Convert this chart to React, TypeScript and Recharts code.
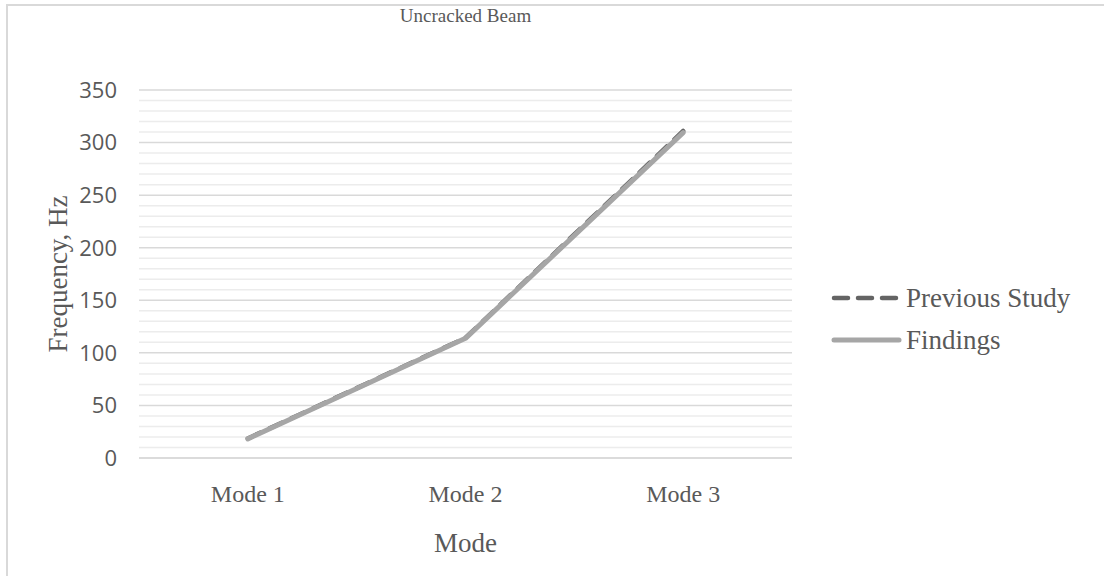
import React from "react"
import {
  LineChart,
  Line,
  XAxis,
  YAxis,
  CartesianGrid,
  ReferenceLine
} from "recharts"

// chart values
const modes = ["Mode 1", "Mode 2", "Mode 3"]
const previousStudy = [18.6, 114.3, 311]
const findings = [18.2, 113.8, 309.5]
const yTicks = [0, 50, 100, 150, 200, 250, 300, 350]
const minorStep = 10

const serif = '"Liberation Serif", "Times New Roman", serif'
const sans = '"Open Sans", "Noto Sans", sans-serif'
const textColor = "#595959"

const series = [
  { key: "previous", name: "Previous Study", color: "#646464", dash: "14 10", width: 4.5 },
  { key: "findings", name: "Findings", color: "#a6a6a6", dash: undefined, width: 5 }
]

const data = modes.map((mode, i) => ({
  mode,
  previous: previousStudy[i],
  findings: findings[i]
}))

// minor gridlines between the major ticks
const minorTicks: number[] = []
for (let v = minorStep; v < yTicks[yTicks.length - 1]; v += minorStep) {
  if (v % 50 !== 0) minorTicks.push(v)
}

function LegendBox() {
  return (
    <div style={{ fontFamily: serif, fontSize: 27, color: textColor }}>
      {series.map(s => (
        <div key={s.key} style={{ display: "flex", alignItems: "center", height: 42 }}>
          <svg width={79} height={12}>
            <line
              x1={7}
              x2={72}
              y1={6}
              y2={6}
              stroke={s.color}
              strokeWidth={s.width}
              strokeDasharray={s.dash}
              strokeLinecap="round"
            />
          </svg>
          <span>{s.name}</span>
        </div>
      ))}
    </div>
  )
}

export default function App() {
  return (
    <div style={{ position: "absolute", left: 0, top: 0, width: 1104, height: 576, overflow: "hidden", background: "#fff" }}>
      <div
        style={{
          position: "absolute",
          left: 6,
          top: 4,
          width: 1120,
          height: 600,
          border: "2px solid #d9d9d9"
        }}
      />
      <div
        style={{
          position: "absolute",
          top: 5,
          left: 139,
          width: 653,
          textAlign: "center",
          fontFamily: serif,
          fontSize: 19,
          color: textColor
        }}
      >
        Uncracked Beam
      </div>
      <div style={{ position: "absolute", left: 0, top: 0 }}>
        <LineChart
          width={1104}
          height={576}
          data={data}
          margin={{ top: 90, right: 312, bottom: 0, left: 0 }}
        >
          <CartesianGrid vertical={false} stroke="#d9d9d9" strokeWidth={1.5} />
          {minorTicks.map(v => (
            <ReferenceLine key={v} y={v} stroke="#ececec" strokeWidth={1.5} />
          ))}
          <XAxis
            dataKey="mode"
            scale="band"
            tickLine={false}
            axisLine={{ stroke: "#d9d9d9", strokeWidth: 1.5 }}
            tickSize={0}
            tickMargin={27}
            height={118}
            tick={{ fontFamily: serif, fontSize: 24, fill: textColor }}
            label={{
              content: (props: any) => {
                const vb = props.viewBox
                return (
                  <text
                    x={vb.x + vb.width / 2}
                    y={vb.y + 94}
                    textAnchor="middle"
                    fontFamily={serif}
                    fontSize={27}
                    fill={textColor}
                  >
                    Mode
                  </text>
                )
              }
            }}
          />
          <YAxis
            width={139}
            domain={[0, 350]}
            ticks={yTicks}
            tickLine={false}
            axisLine={false}
            tickSize={0}
            tickMargin={22}
            tick={{ fontFamily: sans, fontSize: 22, fill: textColor }}
            label={{
              content: (props: any) => {
                const vb = props.viewBox
                const cx = vb.x + 58
                const cy = vb.y + vb.height / 2
                return (
                  <text
                    x={cx}
                    y={cy}
                    transform={`rotate(-90 ${cx} ${cy})`}
                    textAnchor="middle"
                    dominantBaseline="central"
                    fontFamily={serif}
                    fontSize={27}
                    fill={textColor}
                  >
                    Frequency, Hz
                  </text>
                )
              }
            }}
          />
          {series.map(s => (
            <Line
              key={s.key}
              dataKey={s.key}
              name={s.name}
              type="linear"
              stroke={s.color}
              strokeWidth={s.width}
              strokeDasharray={s.dash}
              strokeLinecap="round"
              strokeLinejoin="round"
              dot={false}
              activeDot={false}
              isAnimationActive={false}
            />
          ))}
        </LineChart>
      </div>
      <div style={{ position: "absolute", left: 827, top: 277 }}>
        <LegendBox />
      </div>
    </div>
  )
}
